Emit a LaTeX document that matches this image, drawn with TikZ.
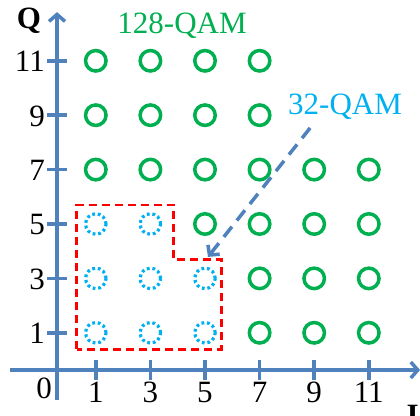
\documentclass[tikz,border=0pt]{standalone}
\usepackage{fontspec}
\setmainfont{Liberation Serif}
\usepackage{xcolor}
\usetikzlibrary{arrows.meta,positioning}

\definecolor{axisblue}{RGB}{79,129,189}
\definecolor{qamgreen}{RGB}{0,176,80}
\definecolor{qamcyan}{RGB}{0,176,240}

\tikzset{
  axisline/.style={line width=3.5pt,axisblue,-{Straight Barb[length=7pt,width=16pt]}},
  tickline/.style={line width=3.5pt,axisblue},
  ticklabel/.style={inner sep=0pt,font=\fontsize{31}{33}\selectfont},
  bigpt/.style={circle,draw=qamgreen,line width=3.5pt,minimum size=20.5pt,inner sep=0pt},
  subpt/.style={circle,draw=qamcyan,line width=3.2pt,dash pattern=on 2.8pt off 2.8pt,minimum size=20.5pt,inner sep=0pt},
  subset/.style={red,line width=2.8pt,dash pattern=on 8pt off 5pt},
  pointer/.style={axisblue,line width=3.5pt,dash pattern=on 13pt off 8pt,-{Straight Barb[length=7pt,width=15pt]}}
}

\begin{document}
\begin{tikzpicture}[x=27.3pt,y=27.2pt]
\useasboundingbox (-2.509,-2.059) rectangle (12.876,13.235);

% axes
\coordinate (xstart) at (-2.14,-0.37);
\coordinate (xend) at (12.88,-0.37);
\coordinate (ystart) at (-0.42,-1.47);
\coordinate (yend) at (-0.42,12.79);
\draw[axisline] (xstart) -- (xend);
\draw[axisline] (ystart) -- (yend);

\foreach \v in {1,3,...,11} {
    \draw[tickline] (\v,0.0) -- (\v,-0.74);
    \draw[tickline] (-0.78,\v) -- (-0.05,\v);
    \node[ticklabel,anchor=base] (xl\v) at (\v,-1.58) {\v};
    \node[ticklabel,anchor=base east] (yl\v) at (-0.86,\v-0.4) {\v};
}
\node[ticklabel,anchor=base east] (zero) at (-0.6,-1.40) {0};
\node[ticklabel,anchor=base west,font=\fontsize{31}{33}\selectfont\bfseries] (qlab) at (-1.9,12.17) {Q};
\node[ticklabel,anchor=base west,font=\fontsize{31}{33}\selectfont\bfseries] (ilab) at (12.38,-2.42) {I};

% constellation points
\foreach \i/\j in {1/11,3/11,5/11,7/11,1/9,3/9,5/9,7/9,1/7,3/7,5/7,7/7,9/7,11/7,
                   5/5,7/5,9/5,11/5,7/3,9/3,11/3,7/1,9/1,11/1} {
    \node[bigpt] (c\i-\j) at (\i,\j) {};
}
\foreach \i/\j in {1/5,3/5,1/3,3/3,5/3,1/1,3/1,5/1} {
    \node[subpt] (c\i-\j) at (\i,\j) {};
}

% 32-QAM region
\draw[subset] (0.3,0.4) -- (0.3,5.7) -- (3.85,5.7) -- (3.85,3.7) -- (5.6,3.7) -- (5.6,0.4) -- cycle;

\node[ticklabel,anchor=base,text=qamgreen] (big) at (4.16,12.02) {128-QAM};
\node[ticklabel,anchor=base,text=qamcyan] (small) at (10.13,9.04) {32-QAM};

\coordinate (arrstart) at (8.85,8.53);
\coordinate (arrend) at (5.11,3.79);
\draw[pointer] (arrstart) -- (arrend);
\end{tikzpicture}
\end{document}
